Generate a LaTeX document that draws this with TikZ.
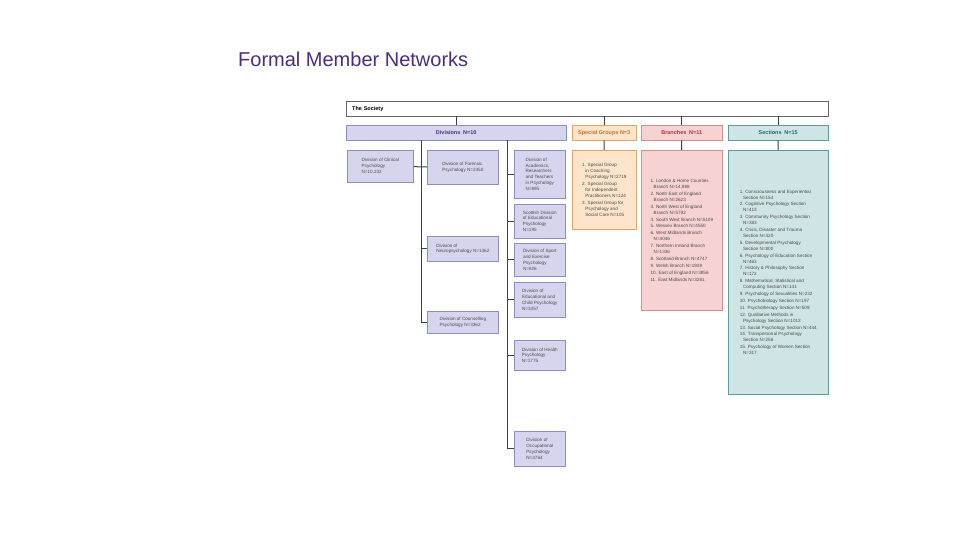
\documentclass[tikz,border=0pt]{standalone}
\usepackage{fontspec}
\setmainfont{Liberation Sans}
\usetikzlibrary{positioning}
\definecolor{divfill}{HTML}{D5D5EE}\definecolor{divline}{HTML}{8E8EBE}
\definecolor{sgfill}{HTML}{FDE4CB}\definecolor{sgline}{HTML}{E7A266}\definecolor{sgtext}{HTML}{D2702A}
\definecolor{brfill}{HTML}{F6D2D2}\definecolor{brline}{HTML}{D48C8C}\definecolor{brtext}{HTML}{C42A3A}
\definecolor{secfill}{HTML}{CFE4E4}\definecolor{secline}{HTML}{5E9C9C}\definecolor{sectext}{HTML}{1E6E6E}
\definecolor{titlecol}{HTML}{4B2C7E}
\newcommand\ind{\hspace*{0.7em}}

\begin{document}
\begin{tikzpicture}[x=1pt, y=-1pt,
    tiny/.style={font=\fontsize{4.6}{5.9}\selectfont, text=black!70, align=left, anchor=north west, inner sep=2pt},
    hdr/.style={minimum height=15pt, font=\fontsize{5.5}{6}\selectfont\bfseries, anchor=north west, inner sep=0pt},
    divbox/.style={tiny, fill=divfill, draw=divline, line width=0.6pt},
    sgbox/.style={tiny, fill=sgfill, draw=sgline, line width=0.6pt},
    brbox/.style={tiny, fill=brfill, draw=brline, line width=0.6pt},
    secbox/.style={tiny, fill=secfill, draw=secline, line width=0.6pt},
    link/.style={black!75, line width=1pt}
]
    \useasboundingbox (0,0) rectangle (960,540);
    \node[anchor=base west, font=\fontsize{20}{24}\selectfont, text=titlecol, inner sep=0pt] (title) at (238,67) {Formal Member Networks};
    % top
    \node[hdr, draw=black!60, minimum width=482pt, text width=470pt, align=left, inner xsep=6pt] (society) at (346,101) {The Society};
    \node[hdr, fill=divfill, draw=divline, minimum width=220pt, text=titlecol] (divhead) at (346,125) {Divisions\enspace N=10};
    \node[hdr, fill=sgfill, draw=sgline, minimum width=64pt, text=sgtext] (sghead) at (572,125) {Special Groups N=3};
    \node[hdr, fill=brfill, draw=brline, minimum width=81pt, text=brtext] (brhead) at (641,125) {Branches\enspace N=11};
    \node[hdr, fill=secfill, draw=secline, minimum width=100pt, text=sectext] (sechead) at (728,125) {Sections\enspace N=15};
    \foreach \h in {divhead, sghead, brhead, sechead}
        \draw[link] (society.south -| \h) -- (\h);
    % divisions
    \node[divbox, minimum width=66pt, minimum height=32pt] (clinical) at (347,150) {Division of Clinical\\Psychology\\N=10,232};
    \node[divbox, minimum width=71pt, minimum height=34pt] (forensic) at (427,150) {Division of Forensic\\Psychology N=2350};
    \node[divbox, minimum width=71pt, minimum height=25pt] (neuro) at (427,236) {Division of\\Neuropsychology N=1362};
    \node[divbox, minimum width=71pt, minimum height=22pt] (counsel) at (427,311) {Division of Counselling\\Psychology N=3362};
    \node[divbox, minimum width=51pt, minimum height=48pt] (academic) at (514,150) {Division of\\Academics,\\Researchers\\and Teachers\\in Psychology\\N=895};
    \node[divbox, minimum width=51pt, minimum height=34pt] (scottish) at (514,204) {Scottish Division\\of Educational\\Psychology\\N=195};
    \node[divbox, minimum width=51pt, minimum height=33pt] (sport) at (514,243) {Division of Sport\\and Exercise\\Psychology\\N=826};
    \node[divbox, minimum width=51pt, minimum height=35pt] (educ) at (514,282) {Division of\\Educational and\\Child Psychology\\N=3357};
    \node[divbox, minimum width=51pt, minimum height=30pt] (health) at (514,340) {Division of Health\\Psychology\\N=1775};
    \node[divbox, minimum width=51pt, minimum height=35pt] (occup) at (514,431) {Division of\\Occupational\\Psychology\\N=3764};
    \coordinate (trunkA) at (421,140);
    \coordinate (trunkB) at (507,140);
    \draw[link] (trunkA) -- (trunkA |- counsel.west) -- (counsel.west);
    \draw[link] (trunkB) -- (trunkB |- occup.west) -- (occup.west);
    \draw[link] (clinical) -- (forensic);
    \foreach \b in {neuro}
        \draw[link] (trunkA |- \b.west) -- (\b.west);
    \foreach \b in {academic, scottish, sport, educ, health}
        \draw[link] (trunkB |- \b.west) -- (\b.west);
    % special groups
    \node[sgbox, minimum width=64pt, minimum height=79pt] (sglist) at (572,150)
        {1. Special Group\\\ind in Coaching\\\ind Psychology N=2719\\[1pt]
         2. Special Group\\\ind for Independent\\\ind Practitioners N=124\\[1pt]
         3. Special Group for\\\ind Psychology and\\\ind Social Care N=105};
    % branches
    \node[brbox, minimum width=81pt, minimum height=160pt] (brlist) at (641,150)
        {1. London \& Home Counties\\\ind Branch N=14,988\\[1pt]
         2. North East of England\\\ind Branch N=2623\\[1pt]
         3. North West of England\\\ind Branch N=5792\\[1pt]
         4. South West Branch N=5109\\[1pt]
         5. Wessex Branch N=4550\\[1pt]
         6. West Midlands Branch\\\ind N=4046\\[1pt]
         7. Northern Ireland Branch\\\ind N=1336\\[1pt]
         8. Scotland Branch N=4747\\[1pt]
         9. Welsh Branch N=1939\\[1pt]
         10. East of England N=3856\\[1pt]
         11. East Midlands N=3281};
    % sections
    \node[secbox, minimum width=100pt, minimum height=244pt] (seclist) at (728,150)
        {1. Consciousness and Experiential\\\ind Section N=154\\[1pt]
         2. Cognitive Psychology Section\\\ind N=413\\[1pt]
         3. Community Psychology Section\\\ind N=383\\[1pt]
         4. Crisis, Disaster and Trauma\\\ind Section N=420\\[1pt]
         5. Developmental Psychology\\\ind Section N=800\\[1pt]
         6. Psychology of Education Section\\\ind N=463\\[1pt]
         7. History \& Philosophy Section\\\ind N=172\\[1pt]
         8. Mathematical, Statistical and\\\ind Computing Section N=141\\[1pt]
         9. Psychology of Sexualities N=232\\[1pt]
         10. Psychobiology Section N=197\\[1pt]
         11. Psychotherapy Section N=509\\[1pt]
         12. Qualitative Methods in\\\ind Psychology Section N=1013\\[1pt]
         13. Social Psychology Section N=444\\[1pt]
         14. Transpersonal Psychology\\\ind Section N=256\\[1pt]
         15. Psychology of Women Section\\\ind N=317};
    \draw[link] (sghead) -- (sglist);
    \draw[link] (brhead) -- (brlist);
    \draw[link] (sechead) -- (seclist);
\end{tikzpicture}
\end{document}
